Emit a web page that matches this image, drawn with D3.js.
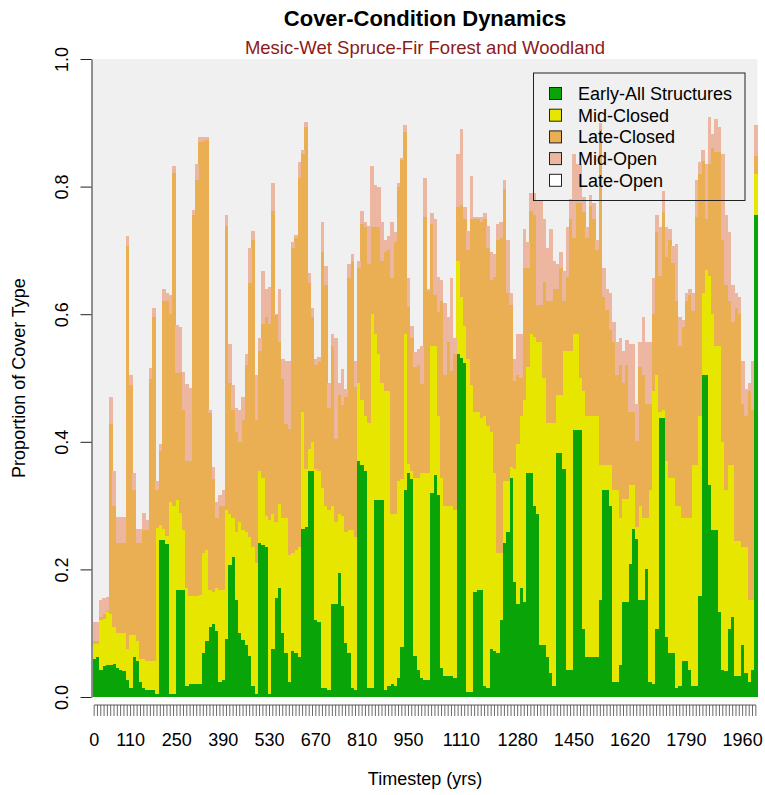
<!DOCTYPE html>
<html>
<head>
<meta charset="utf-8">
<script src="https://cdn.jsdelivr.net/npm/d3@7"></script>
<style>
  body { margin: 0; background: #fff; }
  svg { display: block; font-family: "Liberation Sans", Arial, sans-serif; }
</style>
</head>
<body>
<div id="chart"></div>
<script>
// timesteps (yrs), one bar each
var timesteps = d3.range(0, 2001, 10);

// proportion of cover type per timestep
var early = [
  .060,.062,.043,.049,.050,.050,.051,.046,.043,.040,
  .027,.014,.062,.056,.024,.014,.011,.011,.011,.004,
  .246,.246,.240,.004,.005,.168,.168,.168,.017,.020,
  .020,.020,.020,.069,.088,.110,.114,.104,.024,.027,
  .091,.207,.219,.152,.100,.090,.081,.065,.017,.004,
  .242,.239,.235,.004,.075,.155,.171,.100,.069,.024,
  .072,.069,.062,.264,.267,.354,.354,.120,.117,.014,
  .014,.011,.146,.146,.194,.142,.085,.069,.014,.011,
  .370,.364,.354,.014,.014,.309,.309,.309,.011,.017,
  .020,.017,.030,.078,.325,.351,.341,.065,.043,.030,
  .027,.027,.319,.348,.316,.046,.033,.033,.033,.030,
  .537,.531,.524,.008,.008,.165,.168,.168,.017,.014,
  .075,.072,.069,.120,.242,.258,.344,.181,.146,.171,
  .149,.351,.351,.300,.287,.081,.081,.062,.037,.017,
  .383,.383,.357,.043,.043,.418,.418,.418,.107,.062,
  .062,.062,.062,.152,.325,.325,.300,.024,.024,.050,
  .149,.149,.209,.264,.248,.152,.152,.200,.024,.021,
  .107,.437,.437,.094,.069,.069,.014,.017,.056,.056,
  .043,.017,.017,.158,.505,.505,.332,.261,.261,.133,
  .043,.040,.107,.126,.033,.033,.082,.037,.024,.043,.755
];
var midClosed = [
  .023,.021,.077,.074,.083,.080,.059,.054,.057,.060,
  .049,.083,.035,.032,.035,.045,.045,.045,.045,.261,
  .023,.018,.012,.302,.295,.141,.121,.093,.154,.138,
  .138,.138,.140,.157,.142,.058,.051,.067,.144,.141,
  .202,.080,.061,.106,.174,.171,.177,.186,.218,.206,
  .112,.105,.048,.273,.212,.119,.132,.180,.211,.199,
  .154,.161,.173,.183,.090,.035,.046,.237,.237,.314,
  .286,.282,.154,.128,.093,.141,.173,.192,.247,.240,
  .122,.102,.087,.416,.587,.260,.228,.183,.468,.462,
  .267,.270,.308,.263,.244,.014,.014,.279,.301,.321,
  .324,.324,.231,.202,.124,.298,.267,.267,.267,.263,
  .147,.096,.058,.522,.481,.282,.279,.269,.423,.411,
  .340,.279,.157,.106,.096,.080,.016,.176,.250,.270,
  .317,.167,.218,.265,.269,.475,.419,.368,.393,.413,
  .090,.090,.186,.500,.500,.151,.151,.082,.372,.378,
  .378,.378,.378,.212,.039,.039,.064,.301,.301,.230,
  .161,.161,.123,.068,.019,.148,.128,.080,.301,.458,
  .398,.010,.013,.276,.275,.275,.286,.283,.224,.224,
  .237,.347,.347,.283,.128,.165,.328,.339,.289,.417,
  .357,.285,.257,.238,.212,.212,.153,.198,.128,.109,.064
];
var lateClosed = [
  .005,.005,.005,.007,.002,.298,.190,.142,.142,.142,
  .631,.392,.228,.154,.183,.202,.205,.442,.539,.060,
  .116,.356,.368,.294,.522,.199,.221,.189,.199,.212,
  .597,.652,.710,.646,.643,.277,.176,.109,.132,.132,
  .446,.205,.170,.157,.126,.173,.262,.398,.481,.224,
  .189,.241,.312,.308,.474,.324,.253,.218,.148,.197,
  .478,.490,.578,.404,.536,.260,.195,.163,.171,.369,
  .346,.160,.250,.131,.186,.174,.212,.395,.423,.235,
  .180,.276,.295,.248,.135,.167,.199,.192,.218,.221,
  .369,.426,.462,.500,.317,.246,.208,.174,.176,.139,
  .401,.285,.192,.080,.164,.276,.205,.256,.211,.244,
  .084,.144,.167,.170,.260,.302,.302,.308,.309,.279,
  .238,.308,.490,.494,.459,.295,.254,.138,.109,.059,
  .206,.154,.192,.190,.059,.059,.150,.190,.190,.210,
  .167,.199,.077,.116,.206,.151,.205,.274,.281,.280,
  .330,.309,.260,.526,.263,.243,.211,.231,.180,.240,
  .182,.210,.115,.115,.135,.218,.225,.180,.135,.121,
  .224,.213,.310,.320,.372,.336,.320,.250,.300,.340,
  .350,.241,.388,.378,.207,.079,.175,.261,.305,.305,
  .316,.321,.256,.224,.365,.355,.225,.205,.328,.298,.029
];
var midOpen = [
  .029,.029,.027,.025,.022,.042,.054,.040,.040,.040,
  .016,.016,.026,.022,.022,.027,.016,.018,.014,.014,
  .012,.020,.013,.030,.010,.075,.070,.060,.120,.115,
  .008,.025,.007,.005,.004,.005,.019,.026,.016,.025,
  .016,.061,.039,.038,.050,.036,.017,.055,.015,.071,
  .020,.083,.045,.057,.044,.003,.084,.032,.099,.107,
  .009,.004,.025,.007,.009,.016,.015,.010,.008,.048,
  .029,.039,.019,.158,.019,.057,.012,.022,.010,.041,
  .012,.019,.009,.060,.096,.067,.064,.061,.019,.023,
  .089,.016,.006,.004,.010,.045,.019,.022,.026,.060,
  .061,.004,.016,.119,.055,.033,.112,.039,.145,.026,
  .083,.119,.019,.030,.067,.003,.003,.007,.009,.035,
  .044,.035,.026,.025,.013,.083,.019,.035,.064,.069,
  .061,.041,.029,.035,.162,.162,.099,.084,.113,.044,
  .038,.025,.048,.077,.031,.131,.061,.061,.024,.016,
  .017,.025,.016,.010,.045,.033,.058,.032,.051,.043,
  .051,.039,.106,.106,.058,.038,.090,.096,.096,.056,
  .026,.076,.033,.046,.017,.027,.090,.045,.011,.013,
  .010,.028,.058,.019,.018,.086,.074,.022,.051,.038,
  .135,.109,.109,.058,.023,.027,.067,.042,.012,.077,.048
];

var xTickLabels = [0, 110, 250, 390, 530, 670, 810, 950, 1110, 1280, 1450, 1620, 1790, 1960];
var yTicks = [0, 0.2, 0.4, 0.6, 0.8, 1.0];
var legendNames = ["Early-All Structures", "Mid-Closed", "Late-Closed", "Mid-Open", "Late-Open"];
var legendColors = ["#08A408", "#E6E600", "#EAAF52", "#EDB6A1", "#FFFFFF"];

var keys = ["early", "midClosed", "lateClosed", "midOpen"];
var table = timesteps.map(function (t, i) {
  return { t: t, early: early[i], midClosed: midClosed[i], lateClosed: lateClosed[i], midOpen: midOpen[i] };
});

var width = 765, height = 795;
var plot = { left: 92.5, right: 757.5, top: 59, bottom: 697 };

var svg = d3.select("#chart").append("svg")
  .attr("width", width)
  .attr("height", height);

var x = d3.scaleBand()
  .domain(timesteps)
  .range([plot.left, plot.right])
  .padding(0);

var y = d3.scaleLinear()
  .domain([0, 1])
  .range([plot.bottom, plot.top]);

// plot background
svg.append("rect")
  .attr("x", plot.left)
  .attr("y", plot.top)
  .attr("width", plot.right - plot.left)
  .attr("height", plot.bottom - plot.top)
  .attr("fill", "#F0F0F0");

// stacked bars
var layers = d3.stack().keys(keys)(table);

svg.append("g")
  .selectAll("g")
  .data(layers)
  .enter()
  .append("g")
    .attr("fill", function (d, i) { return legendColors[i]; })
  .selectAll("rect")
  .data(function (d) { return d; })
  .enter()
  .append("rect")
    .attr("x", function (d) { return x(d.data.t); })
    .attr("width", x.bandwidth() + 0.3)
    .attr("y", function (d) { return y(d[1]); })
    .attr("height", function (d) { return y(d[0]) - y(d[1]); })
    .attr("shape-rendering", "crispEdges");

// y axis
var yAxis = svg.append("g")
  .attr("transform", "translate(91.5,0)")
  .call(d3.axisLeft(y).tickValues(yTicks).tickFormat(d3.format(".1f")).tickSize(11).tickSizeOuter(0));
yAxis.select(".domain").attr("stroke", "#222");
yAxis.selectAll(".tick line").attr("stroke", "#222");
yAxis.selectAll(".tick text")
  .attr("transform", "rotate(-90)")
  .attr("x", 0)
  .attr("y", -23.5)
  .attr("dy", 0)
  .attr("text-anchor", "middle")
  .attr("font-size", 18)
  .attr("font-family", "Liberation Sans, Arial, sans-serif")
  .attr("fill", "#000");

// x axis: a tick under every bar, labels on some
var xAxis = svg.append("g")
  .attr("transform", "translate(0,705)")
  .call(d3.axisBottom(x).tickSize(11).tickSizeOuter(0)
    .tickFormat(function (d) { return xTickLabels.indexOf(d) >= 0 ? d : ""; }));
xAxis.select(".domain").remove();
xAxis.append("line")
  .attr("x1", x(0) + x.bandwidth() / 2)
  .attr("x2", x(2000) + x.bandwidth() / 2)
  .attr("stroke", "#333")
  .attr("stroke-width", 0.8);
xAxis.selectAll(".tick line").attr("stroke", "#444").attr("stroke-width", 0.8);
xAxis.selectAll(".tick text")
  .attr("y", 41)
  .attr("dy", 0)
  .attr("font-size", 18)
  .attr("font-family", "Liberation Sans, Arial, sans-serif")
  .attr("fill", "#000");

// titles
var cx = (plot.left + plot.right) / 2;
svg.append("text")
  .attr("x", cx).attr("y", 26)
  .attr("text-anchor", "middle")
  .attr("font-size", 22)
  .attr("font-weight", "bold")
  .text("Cover-Condition Dynamics");

svg.append("text")
  .attr("x", cx).attr("y", 54)
  .attr("text-anchor", "middle")
  .attr("font-size", 18.5)
  .attr("fill", "#8B1A1A")
  .text("Mesic-Wet Spruce-Fir Forest and Woodland");

svg.append("text")
  .attr("x", cx).attr("y", 785)
  .attr("text-anchor", "middle")
  .attr("font-size", 18)
  .text("Timestep (yrs)");

svg.append("text")
  .attr("transform", "translate(25," + ((plot.top + plot.bottom) / 2) + ") rotate(-90)")
  .attr("text-anchor", "middle")
  .attr("font-size", 18)
  .text("Proportion of Cover Type");

// legend
var legend = svg.append("g");
legend.append("rect")
  .attr("x", 533.5).attr("y", 73)
  .attr("width", 211.5).attr("height", 127.5)
  .attr("fill", "none")
  .attr("stroke", "#222")
  .attr("stroke-width", 1);

var items = legend.selectAll("g.item")
  .data(legendNames)
  .enter()
  .append("g")
    .attr("class", "item")
    .attr("transform", function (d, i) { return "translate(0," + (93.5 + i * 21.7) + ")"; });

items.append("rect")
  .attr("x", 549.5).attr("y", -6)
  .attr("width", 12).attr("height", 12)
  .attr("fill", function (d, i) { return legendColors[i]; })
  .attr("stroke", "#222")
  .attr("stroke-width", 1);

items.append("text")
  .attr("x", 578)
  .attr("y", 6.5)
  .attr("font-size", 18)
  .text(function (d) { return d; });
</script>
</body>
</html>
